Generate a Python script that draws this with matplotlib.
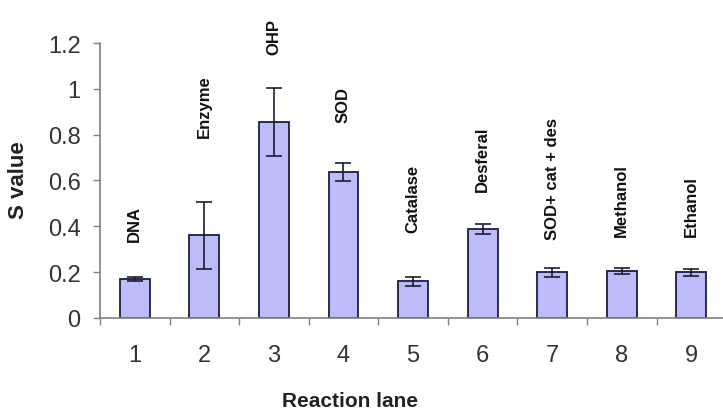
import matplotlib.pyplot as plt

# Data
lanes = [1, 2, 3, 4, 5, 6, 7, 8, 9]
s_values = [0.17, 0.36, 0.855, 0.637, 0.16, 0.388, 0.20, 0.205, 0.20]
s_errors = [0.008, 0.145, 0.15, 0.04, 0.02, 0.02, 0.02, 0.013, 0.015]
lane_names = ["DNA", "Enzyme", "OHP", "SOD", "Catalase", "Desferal",
              "SOD+ cat + des", "Methanol", "Ethanol"]
y_ticks = [0, 0.2, 0.4, 0.6, 0.8, 1, 1.2]
y_ticklabels = ["0", "0.2", "0.4", "0.6", "0.8", "1", "1.2"]

# where the hand-placed lane captions start (bottom of text, data units)
caption_y = [0.336, 0.79, 1.152, 0.855, 0.375, 0.554, 0.345, 0.358, 0.358]

plt.rcParams['font.family'] = ['Liberation Sans', 'DejaVu Sans']

fig = plt.figure(figsize=(7.23, 4.14), dpi=100)
ax = fig.add_axes([0.1383, 0.2295, 0.866, 0.6642])

ax.bar(lanes, s_values, width=0.43, color='#BCBCF8', edgecolor='#1c1c40',
       linewidth=1.3, zorder=2)
ax.errorbar(lanes, s_values, yerr=s_errors, fmt='none', ecolor='#1c1c30',
            elinewidth=1.2, capsize=6, capthick=1.2, zorder=3)

for x, name, y in zip(lanes, lane_names, caption_y):
    ax.text(x, y, name, rotation=90, ha='center', va='bottom',
            fontsize=12, fontweight='bold', color='#111111')

ax.set_xlim(0.5, 9.5)
ax.set_ylim(0, 1.2)
ax.set_yticks(y_ticks)
ax.set_yticklabels(y_ticklabels)
ax.set_xticks(lanes)
ax.set_xticklabels([str(l) for l in lanes])
ax.set_xticks([l - 0.5 for l in lanes] + [9.5], minor=True)

ax.tick_params(axis='y', length=5, width=1, color='#808080', pad=9,
               labelsize=17, labelcolor='#333333')
ax.tick_params(axis='x', which='major', length=0, pad=19,
               labelsize=17, labelcolor='#333333')
ax.tick_params(axis='x', which='minor', length=5, width=1, color='#808080',
               direction='out')

for side in ['top', 'right']:
    ax.spines[side].set_visible(False)
for side in ['left', 'bottom']:
    ax.spines[side].set_color('#808080')
    ax.spines[side].set_linewidth(1.2)

ax.set_ylabel('S value', fontsize=16, fontweight='bold', color='#222222')
ax.yaxis.set_label_coords(-0.113, 0.505)
ax.set_xlabel('Reaction lane', fontsize=15, fontweight='bold', color='#222222')
ax.xaxis.set_label_coords(0.40, -0.265)

fig.savefig('out.png', dpi=100)
